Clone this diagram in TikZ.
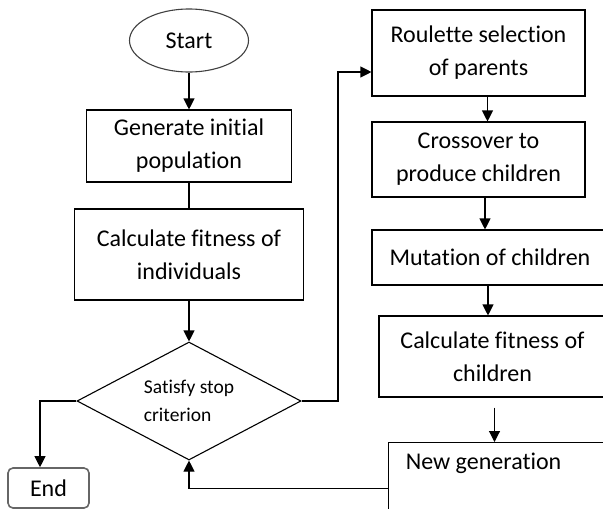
\documentclass[tikz,border=0pt]{standalone}
\usepackage{fontspec}
\setmainfont{Carlito}[Ligatures={NoCommon}]
\usetikzlibrary{shapes.geometric,arrows.meta}

\begin{document}
\begin{tikzpicture}[x=1pt,y=-1pt,
    box/.style={draw,line width=1.1pt,align=center,inner sep=0pt,font=\fontsize{24}{33}\selectfont},
    arr/.style={-{Triangle[length=11pt,width=11pt]},line width=1.1pt}]
  \useasboundingbox (0,0) rectangle (603,509);
  \clip (0,0) rectangle (603,509);

  % Left column
  \node[box,ellipse,draw=black!75,minimum width=119pt,minimum height=63pt] (start) at (189,40.5) {Start};
  \node[box,minimum width=205pt,minimum height=72pt] (gen) at (189,146) {Generate initial\\population};
  \node[box,minimum width=229pt,minimum height=91pt] (calc) at (189,254.5) {Calculate fitness of\\individuals};
  \node[box,diamond,aspect=1.9,align=left,minimum width=224pt,minimum height=118pt,
        font=\fontsize{19.5}{28}\selectfont] (cond) at (189,401) {Satisfy stop\\criterion};
  \node[box,rounded corners=5pt,draw=black!60,line width=1.6pt,minimum width=81pt,minimum height=40pt] (finish) at (48.5,488) {End};

  % Right column
  \node[box,minimum width=213pt,minimum height=86pt] (roul) at (478.5,53) {Roulette selection\\of parents};
  \node[box,minimum width=213pt,minimum height=75pt] (cross) at (478.5,159.5) {Crossover to\\produce children};
  \node[box,minimum width=236pt,minimum height=55pt] (mut) at (490,257.5) {Mutation of children};
  \node[box,minimum width=227pt,minimum height=81pt] (fitc) at (492.5,356.5) {Calculate fitness of\\children};
  \node[box,anchor=north west,minimum width=230pt,minimum height=92pt,
        label={[anchor=center,xshift=-20pt,yshift=-21pt,font=\fontsize{24}{33}\selectfont]north:New generation}] (newg) at (388,442) {};

  % Connectors
  \draw[arr] (start) -- (gen);
  \draw[line width=1.1pt] (gen) -- (calc);
  \draw[arr] (calc) -- (cond);
  \draw[arr] (cond.west) -| ([xshift=-8.5pt]finish.north);
  \coordinate (loop) at (338,72);
  \draw[arr] (cond.east) -| (loop) -- (loop -| roul.west);
  \draw[arr] ([xshift=9pt]roul.south) -- ([xshift=9pt]cross.north);
  \draw[arr] ([xshift=6.5pt]cross.south) -- ([xshift=6.5pt]cross.south |- mut.north);
  \draw[arr] ([xshift=-2pt]mut.south) -- ([xshift=-2pt]mut.south |- fitc.north);
  \draw[arr] ([xshift=2pt,yshift=-10pt]fitc.south) -- ([xshift=2pt]fitc.south |- newg.north);
  \draw[arr] (newg.west) -| (cond.south);
\end{tikzpicture}
\end{document}
